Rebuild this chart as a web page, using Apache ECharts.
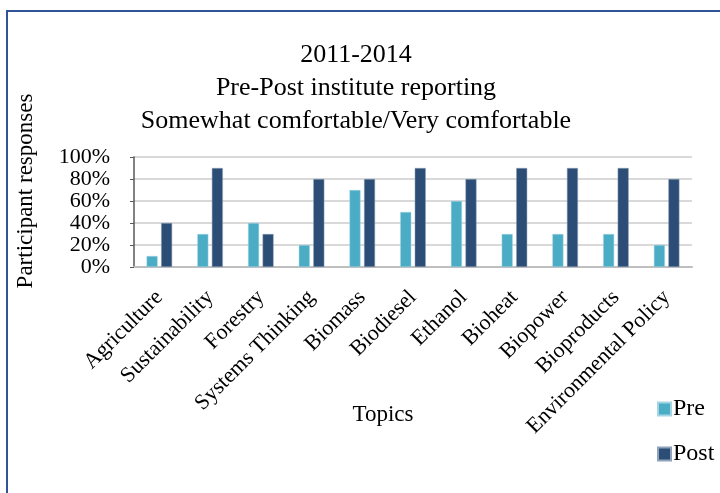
<!DOCTYPE html>
<html><head><meta charset="utf-8">
<script src="https://cdn.jsdelivr.net/npm/echarts@6/dist/echarts.min.js"></script>
<style>html,body{margin:0;padding:0;background:#fff}#c{width:720px;height:493px}</style>
</head><body><div id="c"></div>
<script>
const categories = ['Agriculture','Sustainability','Forestry','Systems Thinking','Biomass','Biodiesel','Ethanol','Bioheat','Biopower','Bioproducts','Environmental Policy'];
const preValues = [10,30,40,20,70,50,60,30,30,30,20];
const postValues = [40,90,30,80,80,90,80,90,90,90,80];
const seriesNames = ['Pre','Post'];
const titleLines = ['2011-2014','Pre-Post institute reporting','Somewhat comfortable/Very comfortable'];

const FONT = '"Liberation Serif","Times New Roman",serif';
const chart = echarts.init(document.getElementById('c'));
chart.setOption({
  animation: false,
  backgroundColor: '#fff',
  textStyle: {fontFamily: FONT, color: '#000'},
  graphic: [{type:'rect', shape:{x:7,y:11,width:900,height:700}, style:{fill:'none', stroke:'#2F5597', lineWidth:2}, silent:true}],
  title: {text: titleLines.join('\n'), left: 351, top: 34, textAlign: 'center',
    textStyle:{fontFamily: FONT, fontSize: 26, fontWeight:'normal', color:'#000', lineHeight: 33}},
  legend: {orient:'vertical', left: 652, top: 392, itemWidth: 13, itemHeight: 13, itemGap: 21,
    icon: 'rect', textStyle:{fontFamily: FONT, fontSize: 24, color:'#000', padding:[0,0,0,-3]}, data: seriesNames},
  grid: {left: 134, right: 28, top: 157, bottom: 226, containLabel: false},
  xAxis: {type:'category', data: categories, name:'Topics', nameLocation:'middle', nameGap: 136, nameMoveOverlap: false,
    nameTextStyle:{fontFamily: FONT, fontSize: 23, color:'#000', padding:[0,60,0,0]},
    axisLine:{lineStyle:{color:'#BFBFBF', width:2}}, axisTick:{show:false},
    axisLabel:{rotate:45, interval:0, margin: 27, fontFamily: FONT, fontSize: 22, color:'#000'}},
  yAxis: {type:'value', min:0, max:100, interval:20, name:'Participant responses', nameLocation:'middle', nameGap: 97,
    nameTextStyle:{fontFamily: FONT, fontSize: 23, color:'#000', padding:[0,0,0,42]},
    axisLine:{show:true, lineStyle:{color:'#595959', width:1.5}}, axisTick:{show:true, length:4, lineStyle:{color:'#595959'}},
    axisLabel:{formatter:'{value}%', margin: 24, fontFamily: FONT, fontSize: 22, color:'#000'},
    splitLine:{lineStyle:{color:'#D9D9D9', width:2}}},
  series: [
    {name: seriesNames[0], type:'bar', data: preValues, barWidth: 11, barGap: '32%',
      itemStyle:{color:'#4BACC6', borderColor:'#A5D5E3', borderWidth:0.5}},
    {name: seriesNames[1], type:'bar', data: postValues, barWidth: 11,
      itemStyle:{color:'#2C4D75', borderColor:'#8FA3BD', borderWidth:0.5}}
  ]
});
</script></body></html>
